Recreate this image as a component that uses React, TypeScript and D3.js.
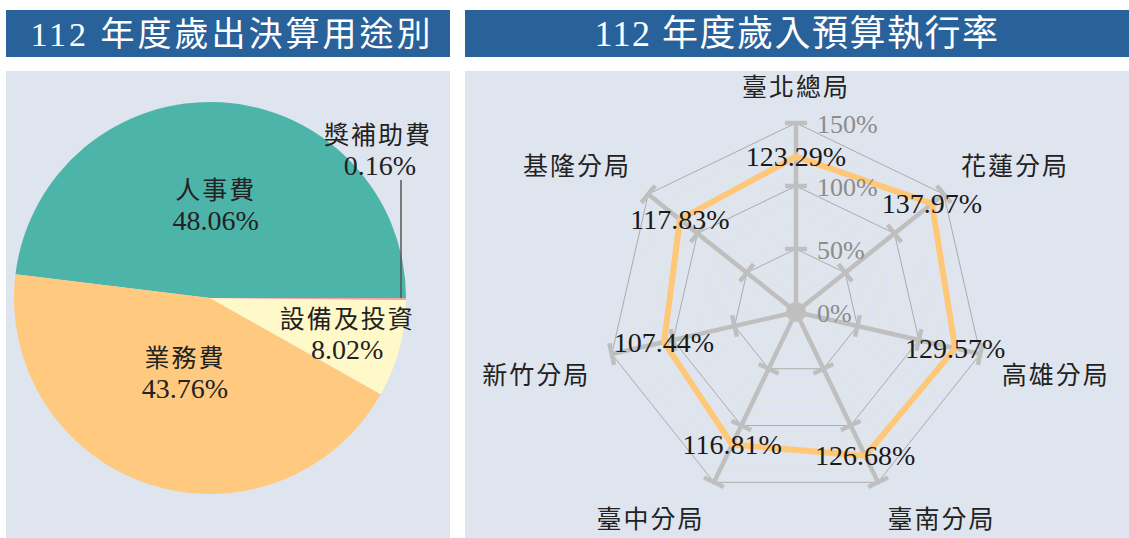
import * as d3 from "d3";

// Radar chart data (112 年度歲入預算執行率)
const branches = ["臺北總局", "花蓮分局", "高雄分局", "臺南分局", "臺中分局", "新竹分局", "基隆分局"];
const rates = [123.29, 137.97, 129.57, 126.68, 116.81, 107.44, 117.83];
const rateTicks = [0, 50, 100, 150];

// Pie chart data (112 年度歲出決算用途別)
const uses = ["人事費", "業務費", "設備及投資", "獎補助費"];
const shares = [48.06, 43.76, 8.02, 0.16];
const useColors = ["#4db4aa", "#ffc97f", "#fff8c8", "#f2a3a3"];

const W = 1129;
const H = 538;
const FONT = '"Liberation Serif", "Times New Roman", "Noto Sans CJK TC", serif';

const Pie = () => {
  const cx = 210;
  const cy = 298;
  const r = 196;

  // starts at 3 o'clock, runs counter-clockwise
  const pie = d3
    .pie<number>()
    .sort(null)
    .startAngle(Math.PI / 2)
    .endAngle(Math.PI / 2 - 2 * Math.PI);
  const arcs = pie(shares);
  const arc = d3.arc<d3.PieArcDatum<number>>().innerRadius(0).outerRadius(r);

  // label distance from centre, per slice (last one sits outside)
  const labelR = [93, 80, 142, 0];

  return (
    <g transform={`translate(${cx},${cy})`}>
      {arcs.map((a, i) => (
        <path key={uses[i]} d={arc(a) || ""} fill={useColors[i]} />
      ))}
      {arcs.slice(0, 3).map((a, i) => {
        const mid = (a.startAngle + a.endAngle) / 2;
        const x = labelR[i] * Math.sin(mid);
        const y = -labelR[i] * Math.cos(mid);
        return (
          <g key={`lbl-${i}`} fill="#222" textAnchor="middle">
            <text x={x} y={y - 15} dominantBaseline="central" fontSize={25} letterSpacing={2}>
              {uses[i]}
            </text>
            <text x={x} y={y + 15} dominantBaseline="central" fontSize={28}>
              {shares[i].toFixed(2)}%
            </text>
          </g>
        );
      })}
      {/* small slice: leader line and outside label */}
      <line x1={r - 5} x2={r - 5} y1={-118} y2={0} stroke="#555" strokeWidth={1.5} />
      <g fill="#222" textAnchor="middle">
        <text x={168} y={-163} dominantBaseline="central" fontSize={25} letterSpacing={2}>
          {uses[3]}
        </text>
        <text x={170} y={-133} dominantBaseline="central" fontSize={28}>
          {shares[3].toFixed(2)}%
        </text>
      </g>
    </g>
  );
};

const Radar = () => {
  const cx = 796;
  const cy = 312;
  const R = 189;
  const n = branches.length;
  const rScale = d3.scaleLinear().domain([0, 150]).range([0, R]);
  const angle = (i: number) => (i * 2 * Math.PI) / n;

  const ring = d3
    .lineRadial<number>()
    .angle((_, i) => angle(i))
    .radius((d) => rScale(d))
    .curve(d3.curveLinearClosed);

  const minor = d3.range(10, 150, 10).filter((v) => v % 50 !== 0);
  const major = rateTicks.filter((v) => v > 0);

  const px = (i: number, v: number) => rScale(v) * Math.sin(angle(i));
  const py = (i: number, v: number) => -rScale(v) * Math.cos(angle(i));

  return (
    <g transform={`translate(${cx},${cy})`}>
      {minor.map((v) => (
        <path key={`mi-${v}`} d={ring(branches.map(() => v)) || ""} fill="none" stroke="#e6e3dc" strokeWidth={1} />
      ))}
      {major.map((v) => (
        <path key={`ma-${v}`} d={ring(branches.map(() => v)) || ""} fill="none" stroke="#ababab" strokeWidth={1} />
      ))}

      {/* axes */}
      {branches.map((b, i) => {
        const a = angle(i);
        return (
          <g key={`ax-${b}`} stroke="#bfbfbf" strokeWidth={4.5}>
            <line x1={0} y1={0} x2={px(i, 150)} y2={py(i, 150)} />
            {major.map((v) => {
              const x = px(i, v);
              const y = py(i, v);
              const dx = Math.cos(a) * 11;
              const dy = Math.sin(a) * 11;
              return <line key={v} x1={x - dx} y1={y - dy} x2={x + dx} y2={y + dy} />;
            })}
          </g>
        );
      })}
      <circle r={10} fill="#bfbfbf" />

      {/* data */}
      <path
        d={ring(rates) || ""}
        fill="none"
        stroke="#ffc878"
        strokeWidth={6}
        strokeLinejoin="round"
      />

      {/* tick labels */}
      {rateTicks.map((v) => (
        <text
          key={`t-${v}`}
          x={21}
          y={-rScale(v) + 1}
          dominantBaseline="central"
          fontSize={26}
          fill="#8c8c8c"
        >
          {v}%
        </text>
      ))}

      {/* value labels */}
      {rates.map((v, i) => (
        <text
          key={`v-${i}`}
          x={px(i, v)}
          y={py(i, v)}
          textAnchor="middle"
          dominantBaseline="central"
          fontSize={28}
          fill="#1a1a1a"
        >
          {v.toFixed(2)}%
        </text>
      ))}

      {/* category names */}
      {branches.map((b, i) => {
        const a = angle(i);
        const s = Math.sin(a);
        const c = Math.cos(a);
        const x = px(i, 150) + 22 * s;
        const y = py(i, 150) - 22 * c;
        const anchor = s > 0.01 ? "start" : s < -0.01 ? "end" : "middle";
        const ty = c > 0 ? y - 14 : y + 17;
        return (
          <text
            key={`n-${b}`}
            x={x}
            y={ty}
            textAnchor={anchor}
            dominantBaseline="central"
            fontSize={25}
            letterSpacing={2}
            fill="#222"
          >
            {b}
          </text>
        );
      })}
    </g>
  );
};

export default function App() {
  return (
    <svg
      width={W}
      height={H}
      viewBox={`0 0 ${W} ${H}`}
      style={{ position: "absolute", left: 0, top: 0, background: "#fff" }}
      fontFamily={FONT}
    >
      {/* headers */}
      <rect x={6} y={10} width={444} height={47} fill="#29619a" />
      <rect x={465} y={10} width={664} height={47} fill="#29619a" />
      <text
        x={232}
        y={34}
        textAnchor="middle"
        dominantBaseline="central"
        fontSize={34}
        letterSpacing={3}
        fill="#fff"
      >
        112 年度歲出決算用途別
      </text>
      <text
        x={797}
        y={34}
        textAnchor="middle"
        dominantBaseline="central"
        fontSize={36}
        letterSpacing={1.5}
        fill="#fff"
      >
        112 年度歲入預算執行率
      </text>

      {/* panels */}
      <rect x={6} y={71} width={444} height={H - 71} fill="#dfe5ee" />
      <rect x={465} y={71} width={664} height={H - 71} fill="#dfe5ee" />

      <Pie />
      <Radar />
    </svg>
  );
}
